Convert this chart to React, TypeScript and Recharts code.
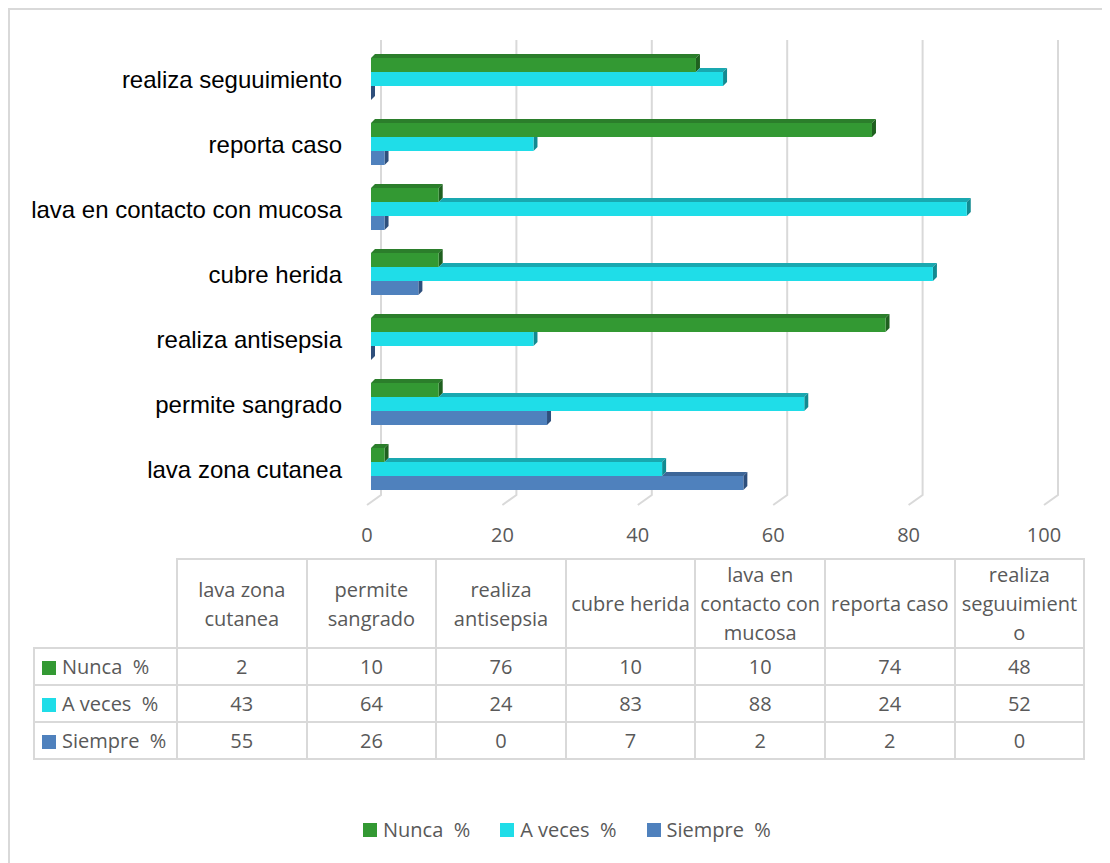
import { Bar, BarChart, CartesianGrid, XAxis, YAxis } from "recharts";

const categories = [
  "lava zona cutanea",
  "permite sangrado",
  "realiza antisepsia",
  "cubre herida",
  "lava en contacto con mucosa",
  "reporta caso",
  "realiza seguuimiento",
];
const nunca = [2, 10, 76, 10, 10, 74, 48];
const aVeces = [43, 64, 24, 83, 88, 24, 52];
const siempre = [55, 26, 0, 7, 2, 2, 0];
const xTicks = [0, 20, 40, 60, 80, 100];

const series = [
  { key: "nunca", label: "Nunca  %", values: nunca, front: "#339933", top: "#2b7e2b", side: "#1f601f" },
  { key: "aVeces", label: "A veces  %", values: aVeces, front: "#1fdde8", top: "#19a8b0", side: "#128a91" },
  { key: "siempre", label: "Siempre  %", values: siempre, front: "#4f81bd", top: "#3d6698", side: "#2e4f7c" },
];

const data = categories.map((name, i) => ({
  name,
  nunca: nunca[i],
  aVeces: aVeces[i],
  siempre: siempre[i],
}));

const DEPTH = 4;
const GRID = "#d9d9d9";
const TEXT = "#595959";
const TABLE_FONT = "'Open Sans', sans-serif";

// 3D-ish bar: front face, top face (only where the bar above doesn't hide it), right face
function Bar3D(props: any) {
  const { x, y, width, height, payload, s, above } = props;
  const w = Math.max(width || 0, 0);
  const h = height;
  const v = payload[s.key];
  let cover = -1;
  if (above) {
    const a = payload[above];
    cover = v > 0 ? (a / v) * w : a > 0 ? Infinity : 0;
  }
  const topStart = above ? cover : 0;
  const sideTop = above && cover > w ? y : y - DEPTH;
  return (
    <g>
      {topStart < w && (
        <polygon
          points={`${x + topStart},${y} ${x + topStart + DEPTH},${y - DEPTH} ${x + w + DEPTH},${y - DEPTH} ${x + w},${y}`}
          fill={s.top}
        />
      )}
      <polygon
        points={`${x + w},${y} ${x + w + DEPTH},${sideTop} ${x + w + DEPTH},${y + h - DEPTH} ${x + w},${y + h}`}
        fill={s.side}
      />
      {w > 0 && <rect x={x} y={y} width={w} height={h} fill={s.front} />}
    </g>
  );
}

const gridLine = (p: any) => (
  <polyline
    key={`g-${p.x1}`}
    points={`${p.x1 + 10},${p.y1 - 7} ${p.x1 + 10},${p.y2 - 7} ${p.x1 - 4},${p.y2 + 3}`}
    fill="none"
    stroke={GRID}
    strokeWidth={2}
  />
);

const XTick = (p: any) => (
  <text x={p.x - 4} y={p.y} dy={32} textAnchor="middle" fontFamily={TABLE_FONT} fontSize={20} fill={TEXT}>
    {p.payload.value}
  </text>
);

const YTick = (p: any) => (
  <text x={p.x - 9} y={p.y} dy={8} textAnchor="end" fontFamily="'Liberation Sans', Arial, sans-serif" fontSize={24} fill="#000">
    {p.payload.value}
  </text>
);

const cell: React.CSSProperties = {
  border: `2px solid ${GRID}`,
  textAlign: "center",
  verticalAlign: "middle",
  padding: 0,
};

export default function App() {
  return (
    <div style={{ position: "relative", width: 1102, height: 855, fontFamily: TABLE_FONT }}>
      <div
        style={{
          position: "absolute",
          left: 0,
          top: 0,
          width: 1102,
          height: 855,
          borderLeft: `2px solid ${GRID}`,
          borderTop: `2px solid ${GRID}`,
          boxSizing: "border-box",
        }}
      />
      <div style={{ position: "absolute", left: 0, top: 0 }}>
        <BarChart
          width={1102}
          height={560}
          data={data}
          layout="vertical"
          margin={{ top: 39, right: 62, left: 0, bottom: 26 }}
          barCategoryGap={11}
          barGap={0}
        >
          <CartesianGrid horizontal={false} vertical={gridLine} />
          <XAxis
            type="number"
            domain={[0, 100]}
            ticks={xTicks}
            axisLine={false}
            tickLine={false}
            height={40}
            tick={<XTick />}
            interval={0}
          />
          <YAxis
            type="category"
            dataKey="name"
            reversed
            width={363}
            axisLine={false}
            tickLine={false}
            tickSize={0}
            tickMargin={20}
            tick={<YTick />}
            interval={0}
          />
          {series.map((s, i) => (
            <Bar
              key={s.key}
              dataKey={s.key}
              name={s.label}
              fill={s.front}
              isAnimationActive={false}
              shape={(p: any) => <Bar3D {...p} s={s} above={i > 0 ? series[i - 1].key : null} />}
            />
          ))}
        </BarChart>
      </div>

      <table
        style={{
          position: "absolute",
          left: 25,
          top: 550,
          width: 1052,
          borderCollapse: "collapse",
          tableLayout: "fixed",
          fontSize: 20,
          color: TEXT,
          fontFamily: TABLE_FONT,
        }}
      >
        <colgroup>
          <col style={{ width: 143 }} />
          {categories.map((c) => (
            <col key={c} style={{ width: 129.6 }} />
          ))}
        </colgroup>
        <tbody>
          <tr style={{ height: 88 }}>
            <td style={{ ...cell, borderTop: "none", borderLeft: "none" }} />
            {categories.map((c) => (
              <td key={c} style={{ ...cell, lineHeight: "29px", overflowWrap: "anywhere", padding: "0 3px" }}>
                {c}
              </td>
            ))}
          </tr>
          {series.map((s) => (
            <tr key={s.key} style={{ height: 37 }}>
              <td style={{ ...cell, textAlign: "left", whiteSpace: "pre", paddingLeft: 7, lineHeight: "26px" }}>
                <span
                  style={{
                    display: "inline-block",
                    width: 14,
                    height: 14,
                    background: s.front,
                    marginRight: 6,
                    verticalAlign: "-1px",
                  }}
                />
                {s.label}
              </td>
              {s.values.map((v, i) => (
                <td key={i} style={{ ...cell, lineHeight: "26px" }}>
                  {v}
                </td>
              ))}
            </tr>
          ))}
        </tbody>
      </table>

      <div
        style={{
          position: "absolute",
          left: 355,
          top: 808,
          display: "flex",
          alignItems: "center",
          fontSize: 20,
          color: TEXT,
          whiteSpace: "pre",
        }}
      >
        {series.map((s) => (
          <div key={s.key} style={{ display: "flex", alignItems: "center", marginRight: 30 }}>
            <span style={{ display: "inline-block", width: 14, height: 14, background: s.front, marginRight: 6 }} />
            <span>{s.label}</span>
          </div>
        ))}
      </div>
    </div>
  );
}
